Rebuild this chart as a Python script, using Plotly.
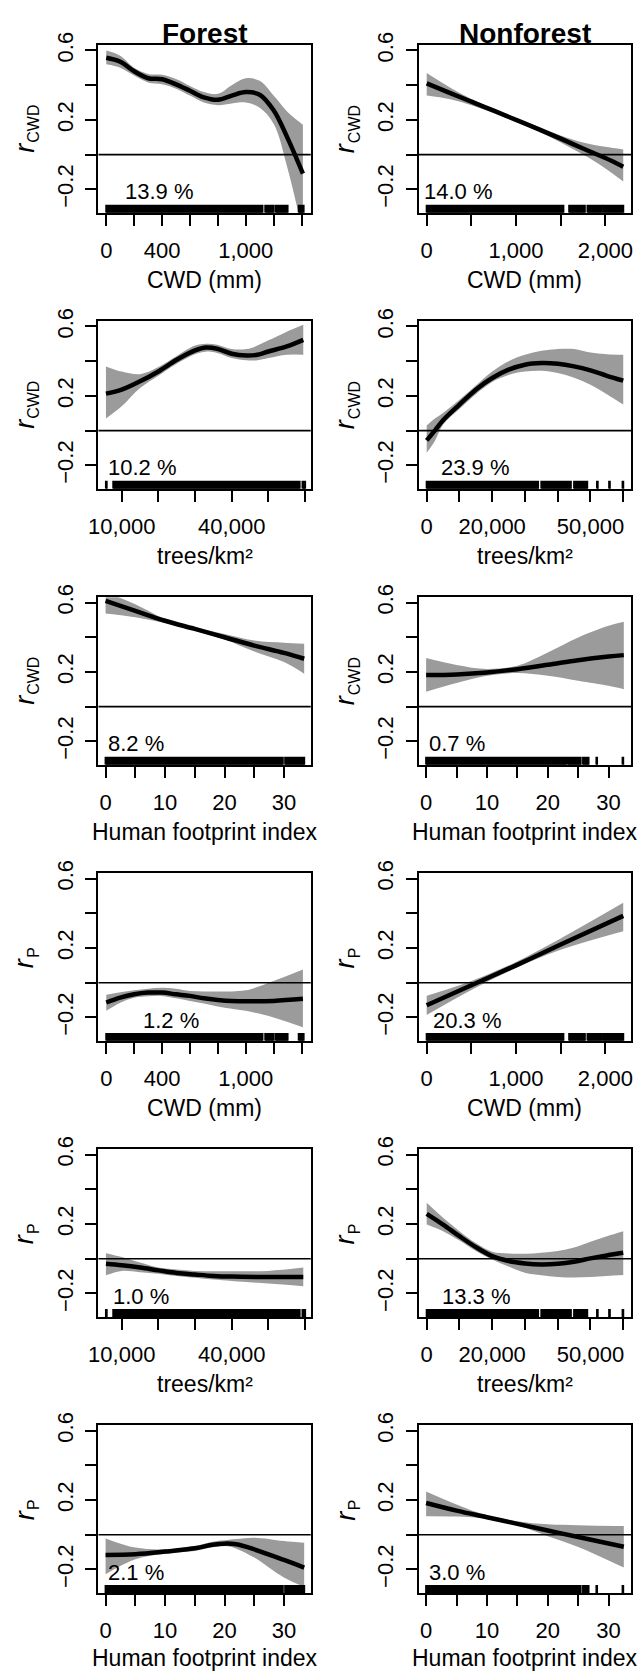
import plotly.graph_objects as go

# ---------------- data ----------------
biomes = ["Forest", "Nonforest"]
row_predictor = ["cwd", "trees", "hfi", "cwd", "trees", "hfi"]
row_response_sub = ["CWD"] * 3 + ["P"] * 3
x_titles = {"cwd": "CWD (mm)", "trees": "trees/km\u00b2", "hfi": "Human footprint index"}

# deviance explained (%) per panel, row-major (Forest, Nonforest)
pct = [13.9, 14.0, 10.2, 23.9, 8.2, 0.7, 1.2, 20.3, 1.0, 13.3, 2.1, 3.0]

# --- r_CWD ~ CWD, Forest
a_x = [0, 100, 200, 300, 400, 500, 600, 700, 800, 900, 1000, 1100, 1200, 1300, 1410]
a_fit = [0.558, 0.535, 0.48, 0.44, 0.434, 0.405, 0.368, 0.33, 0.316, 0.34, 0.36, 0.345, 0.255, 0.095, -0.11]
a_up = [0.60, 0.57, 0.50, 0.465, 0.46, 0.435, 0.395, 0.36, 0.35, 0.40, 0.44, 0.425, 0.34, 0.245, 0.172]
a_lo = [0.52, 0.50, 0.455, 0.415, 0.405, 0.38, 0.34, 0.30, 0.285, 0.295, 0.30, 0.27, 0.178, -0.08, -0.45]
# --- r_CWD ~ CWD, Nonforest
b_x = [0, 250, 500, 750, 1000, 1250, 1500, 1750, 2000, 2200]
b_fit = [0.41, 0.357, 0.305, 0.253, 0.20, 0.147, 0.092, 0.035, -0.02, -0.07]
b_up = [0.47, 0.39, 0.32, 0.262, 0.21, 0.16, 0.11, 0.07, 0.045, 0.03]
b_lo = [0.34, 0.32, 0.285, 0.24, 0.19, 0.133, 0.07, 0.0, -0.08, -0.155]
# --- r_CWD ~ trees, Forest
c_x = [5700, 10000, 15000, 20000, 25000, 30000, 33000, 36000, 40000, 44000, 47000, 50000, 55000, 59500]
c_fit = [0.213, 0.236, 0.284, 0.341, 0.408, 0.462, 0.479, 0.472, 0.443, 0.433, 0.437, 0.456, 0.485, 0.523]
c_up = [0.37, 0.34, 0.325, 0.366, 0.43, 0.49, 0.50, 0.495, 0.47, 0.47, 0.49, 0.52, 0.57, 0.61]
c_lo = [0.07, 0.14, 0.245, 0.316, 0.385, 0.44, 0.455, 0.447, 0.418, 0.405, 0.405, 0.418, 0.437, 0.437]
# --- r_CWD ~ trees, Nonforest
d_x = [0, 2500, 5000, 10000, 15000, 20000, 25000, 30000, 35000, 40000, 45000, 50000, 55000, 60000]
d_fit = [-0.056, 0.0, 0.06, 0.15, 0.236, 0.303, 0.351, 0.38, 0.389, 0.385, 0.37, 0.347, 0.316, 0.288]
d_up = [0.03, 0.07, 0.102, 0.178, 0.26, 0.341, 0.40, 0.437, 0.46, 0.47, 0.47, 0.45, 0.44, 0.437]
d_lo = [-0.128, -0.06, 0.035, 0.125, 0.21, 0.28, 0.32, 0.34, 0.345, 0.332, 0.305, 0.265, 0.21, 0.15]
# --- r_CWD ~ HFI, Forest
e_x = [0, 5, 10, 15, 20, 25, 30, 33.4]
e_fit = [0.61, 0.552, 0.495, 0.448, 0.40, 0.352, 0.31, 0.276]
e_up = [0.66, 0.59, 0.505, 0.457, 0.419, 0.381, 0.368, 0.362]
e_lo = [0.537, 0.515, 0.482, 0.438, 0.387, 0.318, 0.257, 0.19]
# --- r_CWD ~ HFI, Nonforest
f_x = [0, 5, 10, 15, 20, 25, 30, 32.5]
f_fit = [0.182, 0.186, 0.197, 0.216, 0.241, 0.268, 0.289, 0.297]
f_up = [0.28, 0.24, 0.217, 0.236, 0.312, 0.399, 0.466, 0.489]
f_lo = [0.086, 0.136, 0.178, 0.194, 0.178, 0.149, 0.12, 0.101]
# --- r_P ~ CWD, Forest
g_x = [0, 100, 200, 300, 400, 500, 600, 700, 800, 900, 1000, 1200, 1410]
g_fit = [-0.114, -0.086, -0.067, -0.057, -0.057, -0.067, -0.076, -0.09, -0.099, -0.105, -0.107, -0.105, -0.093]
g_up = [-0.07, -0.055, -0.044, -0.035, -0.029, -0.035, -0.048, -0.05, -0.051, -0.05, -0.044, 0.01, 0.076]
g_lo = [-0.162, -0.115, -0.086, -0.078, -0.076, -0.09, -0.105, -0.12, -0.137, -0.15, -0.162, -0.2, -0.257]
# --- r_P ~ CWD, Nonforest
h_x = [0, 500, 1000, 1500, 2200]
h_fit = [-0.13, -0.015, 0.10, 0.22, 0.385]
h_up = [-0.075, 0.01, 0.12, 0.255, 0.46]
h_lo = [-0.186, -0.042, 0.085, 0.19, 0.297]
# --- r_P ~ trees, Forest
i_x = [5700, 10000, 15000, 20000, 25000, 30000, 35000, 40000, 50000, 59500]
i_fit = [-0.029, -0.038, -0.051, -0.067, -0.082, -0.091, -0.099, -0.103, -0.105, -0.105]
i_up = [0.032, 0.01, -0.022, -0.051, -0.062, -0.07, -0.072, -0.072, -0.07, -0.051]
i_lo = [-0.095, -0.07, -0.078, -0.086, -0.1, -0.11, -0.12, -0.128, -0.143, -0.158]
# --- r_P ~ trees, Nonforest
j_x = [0, 5000, 10000, 15000, 20000, 25000, 30000, 35000, 40000, 45000, 50000, 55000, 60000]
j_fit = [0.259, 0.197, 0.13, 0.067, 0.015, -0.013, -0.027, -0.033, -0.029, -0.017, 0.002, 0.019, 0.034]
j_up = [0.322, 0.236, 0.159, 0.09, 0.04, 0.03, 0.029, 0.035, 0.044, 0.065, 0.098, 0.13, 0.159]
j_lo = [0.197, 0.159, 0.105, 0.045, -0.004, -0.045, -0.08, -0.095, -0.105, -0.108, -0.105, -0.1, -0.094]
# --- r_P ~ HFI, Forest
k_x = [0, 5, 10, 15, 18, 20, 22, 25, 30, 33.4]
k_fit = [-0.116, -0.112, -0.097, -0.078, -0.058, -0.051, -0.055, -0.084, -0.145, -0.189]
k_up = [-0.021, -0.074, -0.084, -0.065, -0.04, -0.032, -0.025, -0.017, -0.036, -0.046]
k_lo = [-0.227, -0.141, -0.109, -0.093, -0.072, -0.065, -0.08, -0.131, -0.246, -0.30]
# --- r_P ~ HFI, Nonforest
l_x = [0, 5, 10, 15, 20, 25, 32.5]
l_fit = [0.183, 0.139, 0.101, 0.063, 0.025, -0.013, -0.069]
l_up = [0.25, 0.175, 0.112, 0.078, 0.06, 0.055, 0.05]
l_lo = [0.107, 0.105, 0.093, 0.055, -0.008, -0.07, -0.189]

curves = [
    (a_x, a_fit, a_up, a_lo), (b_x, b_fit, b_up, b_lo),
    (c_x, c_fit, c_up, c_lo), (d_x, d_fit, d_up, d_lo),
    (e_x, e_fit, e_up, e_lo), (f_x, f_fit, f_up, f_lo),
    (g_x, g_fit, g_up, g_lo), (h_x, h_fit, h_up, h_lo),
    (i_x, i_fit, i_up, i_lo), (j_x, j_fit, j_up, j_lo),
    (k_x, k_fit, k_up, k_lo), (l_x, l_fit, l_up, l_lo),
]

# rug (observation coverage) intervals along x
rug = {
    ("cwd", "Forest"): [(0, 1120), (1140, 1200), (1215, 1300), (1380, 1415)],
    ("cwd", "Nonforest"): [(0, 1530), (1595, 1770), (1800, 1960), (1975, 2200)],
    ("trees", "Forest"): [(5700, 5900), (7700, 58500), (59300, 60000)],
    ("trees", "Nonforest"): [(0, 34000), (35000, 44000), (45000, 49000), (52000, 52200), (55700, 55900), (59800, 60000)],
    ("hfi", "Forest"): [(0, 29.8), (30.2, 33.4)],
    ("hfi", "Nonforest"): [(0, 23.0), (23.3, 25.4), (25.8, 26.7), (28.0, 28.1), (32.3, 32.4)],
}

# axis ticks: all tick marks, and the labelled subset
x_ticks_all = {
    ("cwd", "Forest"): [0, 200, 400, 600, 800, 1000, 1200, 1400],
    ("cwd", "Nonforest"): [0, 500, 1000, 1500, 2000],
    ("trees", "Forest"): [10000, 20000, 30000, 40000, 50000, 60000],
    ("trees", "Nonforest"): [0, 10000, 20000, 30000, 40000, 50000, 60000],
    ("hfi", "Forest"): [0, 5, 10, 15, 20, 25, 30],
    ("hfi", "Nonforest"): [0, 5, 10, 15, 20, 25, 30],
}
x_ticks_lab = {
    ("cwd", "Forest"): ([0, 400, 1000], ["0", "400", "1,000"]),
    ("cwd", "Nonforest"): ([0, 1000, 2000], ["0", "1,000", "2,000"]),
    ("trees", "Forest"): ([10000, 40000], ["10,000", "40,000"]),
    ("trees", "Nonforest"): ([0, 20000, 50000], ["0", "20,000", "50,000"]),
    ("hfi", "Forest"): ([0, 10, 20, 30], ["0", "10", "20", "30"]),
    ("hfi", "Nonforest"): ([0, 10, 20, 30], ["0", "10", "20", "30"]),
}
y_ticks_all = [-0.2, 0.0, 0.2, 0.4, 0.6]
y_tickvals = [-0.2, 0.2, 0.6]
y_ticktext = ["\u22120.2", "0.2", "0.6"]

# ---------------- layout / style ----------------
W, H = 638, 1672
ROW_H = 278.2
BOX_TOP, BOX_BOT = 32.5, 201.3
COL_X = [(90, 306), (416, 632)]
Y_RANGE = [-0.335, 0.63]
X_RANGE = {
    ("cwd", "Forest"): [-56, 1466],
    ("cwd", "Nonforest"): [-88, 2288],
    ("trees", "Forest"): [3656, 61532],
    ("trees", "Nonforest"): [-2400, 62400],
    ("hfi", "Forest"): [-1.2, 34.5],
    ("hfi", "Nonforest"): [-1.2, 33.7],
}
pct_x = [118, -55, 5683, 3700, 0.1, 0.2, 246, 47, 7210, 4000, 0.1, 0.2]
FONT = "Liberation Sans, Arial, Helvetica, sans-serif"
BAND = "#9b9b9b"
TICKLEN = 11
R_SIZE, SUB_SIZE = 27, 16

fig = go.Figure()
annotations = []
shapes = []
layout = dict(
    width=W, height=H, autosize=False,
    margin=dict(l=0, r=0, t=0, b=0),
    paper_bgcolor="white", plot_bgcolor="white",
    showlegend=False,
    font=dict(family=FONT, size=22, color="black"),
)

for r in range(6):
    pred = row_predictor[r]
    for c in range(2):
        biome = biomes[c]
        k = r * 2 + c
        n = k + 1
        xs = "" if n == 1 else str(n)
        xa, ya = "x" + xs, "y" + xs
        x0p, x1p = COL_X[c]
        top = r * ROW_H + BOX_TOP
        bot = r * ROW_H + BOX_BOT
        tv, tt = x_ticks_lab[(pred, biome)]
        layout["xaxis" + xs] = dict(
            domain=[x0p / W, x1p / W], anchor=ya, range=X_RANGE[(pred, biome)],
            showline=True, mirror=True, linecolor="black", linewidth=2,
            ticks="outside", ticklen=TICKLEN, tickwidth=2, tickcolor="black",
            tickmode="array", tickvals=tv, ticktext=tt, showgrid=False, zeroline=False,
            minor=dict(tickmode="array", tickvals=x_ticks_all[(pred, biome)], ticks="outside",
                       ticklen=TICKLEN, tickwidth=2, tickcolor="black", showgrid=False),
            tickfont=dict(size=22, family=FONT), ticklabelstandoff=6,
        )
        layout["yaxis" + xs] = dict(
            domain=[1 - bot / H, 1 - top / H], anchor=xa, range=Y_RANGE,
            showline=True, mirror=True, linecolor="black", linewidth=2,
            ticks="outside", ticklen=TICKLEN, tickwidth=2, tickcolor="black",
            tickmode="array", tickvals=y_tickvals, ticktext=y_ticktext, tickangle=-90,
            minor=dict(tickmode="array", tickvals=y_ticks_all, ticks="outside",
                       ticklen=TICKLEN, tickwidth=2, tickcolor="black", showgrid=False),
            showgrid=False, zeroline=False,
            tickfont=dict(size=22, family=FONT), ticklabelstandoff=4,
        )
        cx, cfit, cup, clo = curves[k]
        # confidence band
        fig.add_trace(go.Scatter(x=cx, y=clo, mode="lines", line=dict(width=0, color=BAND, shape="spline"),
                                 xaxis=xa, yaxis=ya, hoverinfo="skip"))
        fig.add_trace(go.Scatter(x=cx, y=cup, mode="lines", line=dict(width=0, color=BAND, shape="spline"),
                                 fill="tonexty", fillcolor=BAND, xaxis=xa, yaxis=ya, hoverinfo="skip"))
        # fitted line
        fig.add_trace(go.Scatter(x=cx, y=cfit, mode="lines", line=dict(width=4.5, color="black", shape="spline"),
                                 xaxis=xa, yaxis=ya))
        # rug
        rx, ry = [], []
        ylo, yhi = Y_RANGE[0], Y_RANGE[0] + 0.04
        for a, b in rug[(pred, biome)]:
            rx += [a, b, b, a, a, None]
            ry += [ylo, ylo, yhi, yhi, ylo, None]
        fig.add_trace(go.Scatter(x=rx, y=ry, mode="lines", fill="toself", fillcolor="black",
                                 line=dict(width=2, color="black"), xaxis=xa, yaxis=ya, hoverinfo="skip"))
        # zero line
        shapes.append(dict(type="line", xref=xa + " domain", yref=ya, x0=0, x1=1, y0=0, y1=0,
                           line=dict(color="black", width=1.6), layer="above"))
        # percent label
        annotations.append(dict(xref=xa, yref=ya, x=pct_x[k], y=-0.215, text=f"{pct[k]:.1f} %",
                                showarrow=False, xanchor="left", yanchor="middle",
                                font=dict(size=22, family=FONT)))
        # x title
        if r < 5:
            annotations.append(dict(xref="paper", yref="paper", x=(x0p + x1p) / 2 / W,
                                    y=1 - (bot + 68) / H, text=x_titles[pred], showarrow=False,
                                    xanchor="center", yanchor="middle", font=dict(size=23, family=FONT)))
        else:
            annotations.append(dict(xref="paper", yref="paper", x=(x0p + x1p) / 2 / W,
                                    y=0, text=x_titles[pred], showarrow=False, borderpad=0,
                                    xanchor="center", yanchor="bottom", font=dict(size=23, family=FONT)))
        # y title: italic r with subscript, drawn as two rotated texts
        sub = row_response_sub[r]
        r_len = 0.36 * R_SIZE
        sub_len = 0.80 * SUB_SIZE * len(sub)
        total = r_len + sub_len
        yc = (top + bot) / 2
        r_cy = yc + total / 2 - r_len / 2
        s_cy = yc + total / 2 - r_len - sub_len / 2
        annotations.append(dict(xref="paper", yref="paper", x=(x0p - 75) / W, y=1 - r_cy / H,
                                text="<i>r</i>", showarrow=False, textangle=-90,
                                xanchor="center", yanchor="middle", font=dict(size=R_SIZE, family=FONT)))
        annotations.append(dict(xref="paper", yref="paper", x=(x0p - 66) / W, y=1 - s_cy / H,
                                text=sub, showarrow=False, textangle=-90,
                                xanchor="center", yanchor="middle", font=dict(size=SUB_SIZE, family=FONT)))

for c in range(2):
    x0p, x1p = COL_X[c]
    annotations.append(dict(xref="paper", yref="paper", x=(x0p + x1p) / 2 / W, y=1 - 21 / H,
                            text="<b>" + biomes[c] + "</b>", showarrow=False,
                            xanchor="center", yanchor="middle", font=dict(size=28, family=FONT)))

layout["annotations"] = annotations
layout["shapes"] = shapes
fig.update_layout(**layout)
fig.write_html(
    "out.html",
    config={"displayModeBar": False},
    post_script="document.body.style.margin='0';document.body.style.overflow='hidden';",
)
